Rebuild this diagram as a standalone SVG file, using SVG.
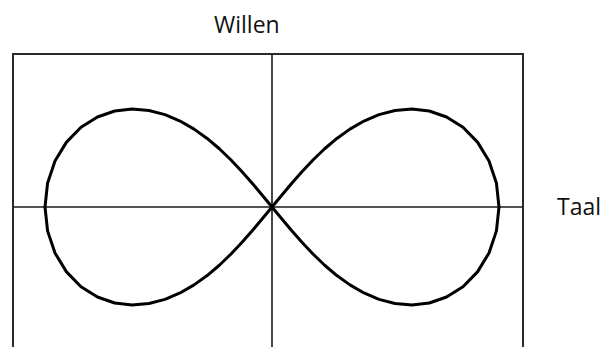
<svg xmlns="http://www.w3.org/2000/svg" width="601" height="347" viewBox="0 0 601 347">
<style>
.frame{fill:none;stroke:#2a2a2a;stroke-width:2}
.axis{fill:none;stroke:#1a1a1a;stroke-width:1.6}
.curve{fill:none;stroke:#000;stroke-width:3;stroke-linejoin:round}
.lbl{font-family:"Open Sans","Noto Sans","Liberation Sans",sans-serif;font-size:23px;fill:#111}
</style>
<rect width="601" height="347" fill="#fff"/>
<g id="frame">
<polyline class="frame" points="13,347 13,54 523,54 523,347"/>
</g>
<g id="axes">
<line class="axis" x1="272" y1="54" x2="272" y2="347"/>
<line class="axis" x1="13" y1="207" x2="523" y2="207"/>
</g>
<g id="curve">
<path class="curve" d="M272,207 L281.93,194.93 292.01,182.95 302.39,171.18 313.23,159.72 324.67,148.75 336.86,138.46 349.92,129.12 363.95,121.04 379.01,114.67 395.05,110.48 411.92,109.07 429.27,111.04 446.56,116.98 462.97,127.3 477.5,142.1 489.01,161.02 496.43,183.13 499,207 496.43,230.87 489.01,252.98 477.5,271.9 462.97,286.7 446.56,297.02 429.27,302.96 411.92,304.93 395.05,303.52 379.01,299.33 363.95,292.96 349.92,284.88 336.86,275.54 324.67,265.25 313.23,254.28 302.39,242.82 292.01,231.05 281.93,219.07 272,207 262.07,194.93 251.99,182.95 241.61,171.18 230.77,159.72 219.33,148.75 207.14,138.46 194.08,129.12 180.05,121.04 164.99,114.67 148.95,110.48 132.08,109.07 114.73,111.04 97.44,116.98 81.03,127.3 66.5,142.1 54.99,161.02 47.57,183.13 45,207 47.57,230.87 54.99,252.98 66.5,271.9 81.03,286.7 97.44,297.02 114.73,302.96 132.08,304.93 148.95,303.52 164.99,299.33 180.05,292.96 194.08,284.88 207.14,275.54 219.33,265.25 230.77,254.28 241.61,242.82 251.99,231.05 262.07,219.07 Z"/>
</g>
<g id="willen">
<text class="lbl" x="214" y="33">Willen</text>
</g>
<g id="taal">
<text class="lbl" x="557" y="215">Taal</text>
</g>
</svg>
